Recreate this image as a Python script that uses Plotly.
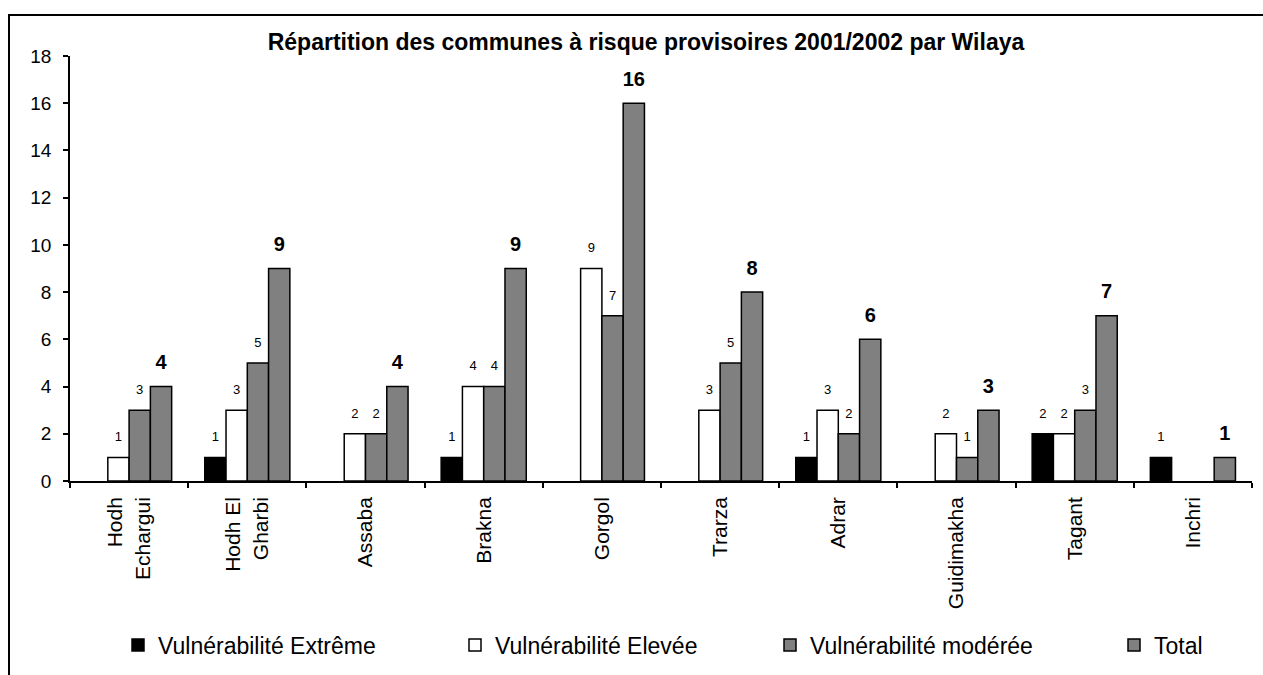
import plotly.graph_objects as go

# ---- data ----
categories = ["Hodh<br>Echargui", "Hodh El<br>Gharbi", "Assaba", "Brakna", "Gorgol",
              "Trarza", "Adrar", "Guidimakha", "Tagant", "Inchri"]
extreme = [None, 1, None, 1, None, None, 1, None, 2, 1]
elevee = [1, 3, 2, 4, 9, 3, 3, 2, 2, None]
moderee = [3, 5, 2, 4, 7, 5, 2, 1, 3, None]
total = [4, 9, 4, 9, 16, 8, 6, 3, 7, 1]
series_names = ["Vulnérabilité Extrême", "Vulnérabilité Elevée",
                "Vulnérabilité modérée", "Total"]
y_ticks = [0, 2, 4, 6, 8, 10, 12, 14, 16, 18]
title_text = "Répartition des communes à risque provisoires 2001/2002 par Wilaya"

FONT = "Liberation Sans, Arial, sans-serif"
colors = ["#000000", "#ffffff", "#808080", "#808080"]
series = [extreme, elevee, moderee, total]
legend_ids = ["legend", "legend2", "legend3", "legend4"]

fig = go.Figure()

for i, (name, vals) in enumerate(zip(series_names, series)):
    fig.add_trace(go.Bar(
        x=categories, y=vals, name=name,
        marker=dict(color=colors[i], line=dict(color="#000000", width=1.5)),
        legend=legend_ids[i], hoverinfo="skip",
    ))

# value labels, grouped like the bars
for i, vals in enumerate(series):
    bold = (i == 3)
    fig.add_trace(go.Scatter(
        x=categories, y=vals, mode="markers+text",
        text=[("" if v is None else str(v)) for v in vals],
        textposition="top center",
        textfont=dict(family=FONT, size=20 if bold else 13, color="#000000",
                      weight="bold" if bold else "normal"),
        marker=dict(size=18 if bold else 19, color="rgba(0,0,0,0)"),
        offsetgroup=str(i), alignmentgroup="lbl", orientation="v",
        showlegend=False, hoverinfo="skip", cliponaxis=False,
    ))

# pixel geometry helpers for frame/legends
W, H = 1263, 675
ml, mr, mt, mb = 70, 11, 56, 194
pw, ph = W - ml - mr, H - mt - mb
def px_x(p):
    return (p - ml) / pw
def px_y(p):
    return (H - mb - p) / ph

fig.add_shape(type="rect", xref="paper", yref="paper",
              x0=px_x(9), x1=px_x(1320), y0=px_y(700), y1=px_y(15),
              line=dict(color="#000000", width=2), fillcolor="rgba(0,0,0,0)",
              layer="above")

legend_pos = [118, 455, 770, 1114]
layout_legends = {}
for lid, xp in zip(legend_ids, legend_pos):
    layout_legends[lid] = dict(
        x=px_x(xp), y=px_y(645), xanchor="left", yanchor="middle",
        orientation="h", bgcolor="rgba(0,0,0,0)", borderwidth=0,
        font=dict(family=FONT, size=23, color="#000000"),
        itemwidth=30,
    )

fig.update_layout(
    width=W, height=H,
    margin=dict(l=ml, r=mr, t=mt, b=mb, autoexpand=False),
    paper_bgcolor="#ffffff", plot_bgcolor="#ffffff",
    barmode="group", bargap=0.28, bargroupgap=0,
    scattermode="group", scattergap=0.28,
    font=dict(family=FONT, color="#000000"),
    title=dict(text="<b>" + title_text + "</b>", x=px_x(646), xref="paper",
               xanchor="center", y=1 - 42 / H, yref="container", yanchor="middle",
               font=dict(family=FONT, size=23, color="#000000")),
    xaxis=dict(type="category", showline=True, linecolor="#000000", linewidth=1.5,
               ticks="outside", tickson="boundaries", ticklen=5, tickwidth=1.5,
               tickcolor="#000000", tickangle=-90, showgrid=False,
               tickfont=dict(family=FONT, size=21, color="#000000"),
               automargin=False, ticklabelstandoff=6),
    yaxis=dict(range=[0, 18], tickvals=y_ticks, showline=True, linecolor="#000000",
               linewidth=1.5, ticks="outside", ticklen=5, tickwidth=1.5,
               tickcolor="#000000", showgrid=False, zeroline=False,
               tickfont=dict(family=FONT, size=19, color="#000000"),
               automargin=False, ticklabelstandoff=8),
    showlegend=True,
    **layout_legends,
)

fig.write_html(
    "out.html",
    config={"displayModeBar": False},
    post_script="document.body.style.margin='0';document.body.style.overflow='hidden';",
)
